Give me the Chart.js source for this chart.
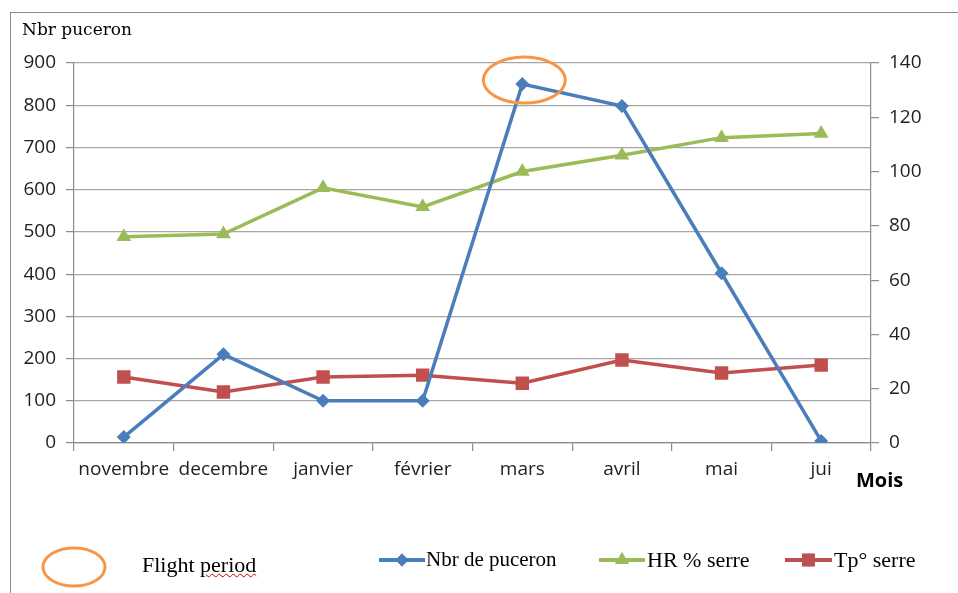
<!DOCTYPE html>
<html><head><meta charset="utf-8">
<script src="https://cdn.jsdelivr.net/npm/chart.js@4.4.0/dist/chart.umd.min.js"></script>
<style>
html,body{margin:0;padding:0;background:#fff;}
#wrap{position:relative;width:958px;height:593px;overflow:hidden;background:#fff;}
#frame{position:absolute;left:10px;top:12px;width:960px;height:600px;border-left:1.5px solid #8c8c8c;border-top:1.5px solid #8c8c8c;}
canvas{position:absolute;left:0;top:0;}
.t{position:absolute;white-space:nowrap;color:#000;line-height:1;}
.serif{font-family:'Liberation Serif','Times New Roman',serif;}
</style></head><body>
<div id="wrap">
<div id="frame"></div>
<canvas id="c" width="958" height="593"></canvas>
<div class="t" style="left:22px;top:21px;font-family:'DejaVu Serif',serif;font-size:17px;">Nbr puceron</div>
<div class="t" style="left:856px;top:470px;font-family:'Open Sans',sans-serif;font-weight:bold;font-size:20px;">Mois</div>
<div class="t serif" style="left:142px;top:554px;font-size:22px;">Flight <span style="text-decoration:underline wavy #d00000;text-decoration-thickness:1px;">period</span></div>
<div class="t serif" style="left:426px;top:549px;font-size:21px;">Nbr de puceron</div>
<div class="t serif" style="left:647px;top:549px;font-size:22px;">HR % serre</div>
<div class="t serif" style="left:834px;top:549px;font-size:22px;">Tp° serre</div>
</div>
<script>
const categories = ['novembre','decembre','janvier','février','mars','avril','mai','jui'];
const nbrPuceron = [14, 210, 100, 100, 850, 798, 402, 5];
const hrSerre = [76, 77, 94, 87, 100, 106, 112.5, 114];
const tpSerre = [24.3, 18.8, 24.3, 25, 22, 30.6, 25.8, 28.7];
const leftTicks = {min:0, max:900, step:100};
const rightTicks = {min:0, max:140, step:20};

const BLUE = '#4A7EBB', GREEN = '#9BBB59', RED = '#C0504D', ORANGE = '#F79646';
const tickFont = {family:"'Open Sans', sans-serif", size:19};

const deco = {
  id:'deco',
  afterDatasetsDraw(chart){
    const ctx = chart.ctx;
    // flight period ellipse around the peak (mars)
    const pk = chart.getDatasetMeta(0).data[4];
    ctx.save();
    ctx.strokeStyle = ORANGE; ctx.lineWidth = 3;
    ctx.beginPath(); ctx.ellipse(pk.x + 2, pk.y - 4, 41, 23, 0, 0, Math.PI*2); ctx.stroke();
    // legend ellipse
    ctx.beginPath(); ctx.ellipse(74, 567, 31, 19, 0, 0, Math.PI*2); ctx.stroke();
    // legend line symbols
    const items = [[379,425,BLUE,'rectRot',6.5],[599,645,GREEN,'triangle',8],[785,832,RED,'rect',9]];
    const y = 560;
    for (const [x0,x1,col,ps,r] of items){
      ctx.strokeStyle = col; ctx.lineWidth = 4;
      ctx.beginPath(); ctx.moveTo(x0,y); ctx.lineTo(x1,y); ctx.stroke();
      ctx.fillStyle = col;
      Chart.helpers.drawPoint(ctx,{pointStyle:ps,radius:r,borderWidth:0},(x0+x1)/2,y);
      ctx.fill();
    }
    ctx.restore();
  }
};

new Chart(document.getElementById('c'), {
  type:'line',
  data:{
    labels:categories,
    datasets:[
      {label:'Nbr de puceron', data:nbrPuceron, yAxisID:'y', borderColor:BLUE, backgroundColor:BLUE, borderWidth:3.5, pointStyle:'rectRot', pointRadius:7, pointBorderWidth:0, tension:0},
      {label:'HR % serre', data:hrSerre, yAxisID:'y1', borderColor:GREEN, backgroundColor:GREEN, borderWidth:3.5, pointStyle:'triangle', pointRadius:8.5, pointBorderWidth:0, tension:0},
      {label:'Tp° serre', data:tpSerre, yAxisID:'y1', borderColor:RED, backgroundColor:RED, borderWidth:3.5, pointStyle:'rect', pointRadius:9.5, pointBorderWidth:0, tension:0}
    ]
  },
  options:{
    responsive:false, animation:false, devicePixelRatio:1,
    layout:{padding:{top:63,left:0,right:0,bottom:0}},
    plugins:{legend:{display:false}, tooltip:{enabled:false}},
    scales:{
      x:{
        offset:true,
        grid:{offset:true, drawOnChartArea:false, tickLength:8, color:'#8c8c8c', lineWidth:1.2},
        border:{color:'#8c8c8c', width:1.2},
        ticks:{font:tickFont, color:'#222', padding:7, maxRotation:0, autoSkip:false},
        afterFit(s){ s.height = 150; }
      },
      y:{
        position:'left', min:leftTicks.min, max:leftTicks.max,
        grid:{color:'#a6a6a6', lineWidth:1.2, tickLength:8, tickColor:'#8c8c8c'},
        border:{color:'#8c8c8c', width:1.2},
        ticks:{stepSize:leftTicks.step, font:tickFont, color:'#222', padding:10},
        afterFit(s){ s.width = 74; }
      },
      y1:{
        position:'right', min:rightTicks.min, max:rightTicks.max,
        grid:{drawOnChartArea:false, tickLength:8, color:'#8c8c8c', lineWidth:1.2},
        border:{color:'#8c8c8c', width:1.2},
        ticks:{stepSize:rightTicks.step, font:tickFont, color:'#222', padding:10},
        afterFit(s){ s.width = 87; }
      }
    }
  },
  plugins:[deco]
});
</script>
</body></html>
